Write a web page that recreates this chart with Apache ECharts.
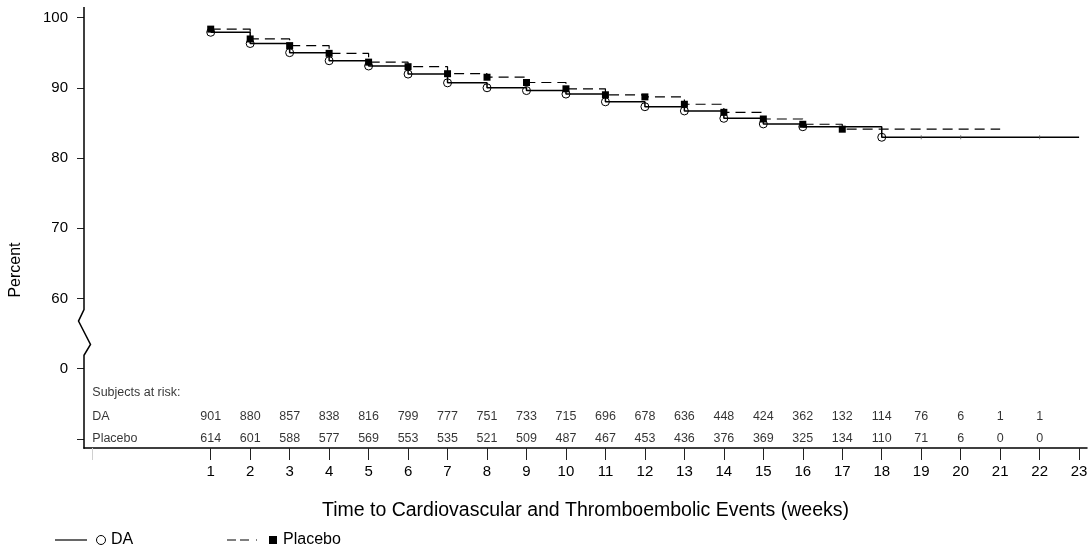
<!DOCTYPE html>
<html>
<head>
<meta charset="utf-8">
<script src="https://cdn.jsdelivr.net/npm/echarts@6/dist/echarts.min.js"></script>
<style>
  html, body { margin: 0; padding: 0; background: #ffffff; }
  #chart { width: 1092px; height: 559px; }
</style>
</head>
<body>
<div id="chart"></div>
<script>
// Kaplan-Meier event-free percentages by week
const weekTicks = [1, 2, 3, 4, 5, 6, 7, 8, 9, 10, 11, 12, 13, 14, 15, 16, 17, 18, 19, 20, 21, 22, 23];

const daWeeks = [1, 2, 3, 4, 5, 6, 7, 8, 9, 10, 11, 12, 13, 14, 15, 16, 18];
const daPercent = [97.9, 96.3, 95.0, 93.85, 93.1, 91.95, 90.7, 90.0, 89.6, 89.1, 88.0, 87.3, 86.7, 85.65, 84.85, 84.45, 82.95];
const daLastWeek = 23;
const daCensorWeeks = [19, 20, 22];

const pboWeeks = [1, 2, 3, 4, 5, 6, 7, 8, 9, 10, 11, 12, 13, 14, 15, 16, 17];
const pboPercent = [98.35, 96.95, 96.0, 94.9, 93.65, 93.0, 92.0, 91.5, 90.75, 89.85, 89.0, 88.7, 87.65, 86.5, 85.55, 84.8, 84.1];
const pboLastWeek = 21;

// Subjects at risk
const riskWeeks = [1, 2, 3, 4, 5, 6, 7, 8, 9, 10, 11, 12, 13, 14, 15, 16, 17, 18, 19, 20, 21, 22];
const daAtRisk = [901, 880, 857, 838, 816, 799, 777, 751, 733, 715, 696, 678, 636, 448, 424, 362, 132, 114, 76, 6, 1, 1];
const pboAtRisk = [614, 601, 588, 577, 569, 553, 535, 521, 509, 487, 467, 453, 436, 376, 369, 325, 134, 110, 71, 6, 0, 0];

const yTickValues = [40, 50, 60, 70, 80, 90, 100];
const yLabelValues = [50, 60, 70, 80, 90, 100];

// The axis is broken between 0 and 60: the "0" tick is drawn where 50 would be.
const ZERO_AT = 50;
const FONT = 'Liberation Sans, Arial, Helvetica, sans-serif';

// Rows of the at-risk table, in axis units below the broken zero
const ROW_HEAD = 46.55;
const ROW_DA = 43.23;
const ROW_PBO = 40.06;
const ROW_LABEL_X = -2;

const X_MIN = -2.21, X_MAX = 23.2;
const Y_MIN = 38.7, Y_MAX = 101.5;

function curve(weeks, values, lastWeek) {
  const pts = weeks.map((w, i) => [w, values[i]]);
  pts.push({ value: [lastWeek, values[values.length - 1]], symbol: 'none' });
  return pts;
}

const chart = echarts.init(document.getElementById('chart'), null, { renderer: 'canvas' });

const textRow = (y, values) => riskWeeks.map((w, i) => [w, y, values[i]]);

const option = {
  animation: false,
  backgroundColor: '#ffffff',
  textStyle: { fontFamily: FONT },
  grid: { left: 84, right: 5, top: 7, bottom: 111, containLabel: false },
  xAxis: [{
    type: 'value',
    min: X_MIN,
    max: X_MAX,
    name: 'Time to Cardiovascular and Thromboembolic Events (weeks)',
    nameLocation: 'middle',
    nameGap: 53,
    nameTextStyle: { fontSize: 19.5, color: '#000', fontFamily: FONT },
    axisLine: { show: true, onZero: false, lineStyle: { color: '#000', width: 1.5 } },
    axisTick: { show: true, length: 12, customValues: weekTicks, lineStyle: { color: '#222', width: 1 } },
    axisLabel: { show: true, customValues: weekTicks, margin: 16, fontSize: 15, color: '#000', fontFamily: FONT },
    splitLine: { show: false }
  }, {
    type: 'value',
    min: X_MIN,
    max: X_MAX,
    position: 'bottom',
    axisLine: { show: false, onZero: false },
    axisTick: { show: true, length: 12, customValues: [ROW_LABEL_X], lineStyle: { color: '#d0d0d0', width: 1 } },
    axisLabel: { show: false },
    splitLine: { show: false }
  }],
  yAxis: {
    type: 'value',
    min: Y_MIN,
    max: Y_MAX,
    position: 'left',
    axisLine: { show: false, onZero: false },
    axisTick: { show: true, length: 7, customValues: yTickValues, lineStyle: { color: '#222', width: 1 } },
    axisLabel: {
      show: true,
      customValues: yLabelValues,
      margin: 16,
      fontSize: 15,
      color: '#000',
      fontFamily: FONT,
      formatter: v => (v === ZERO_AT ? '0' : String(v))
    },
    splitLine: { show: false }
  },
  series: [
    {
      name: 'DA',
      type: 'line',
      step: 'end',
      data: curve(daWeeks, daPercent, daLastWeek),
      lineStyle: { color: '#000', width: 1.5, type: 'solid' },
      symbol: 'circle',
      symbolSize: 8,
      itemStyle: { color: 'rgba(0,0,0,0)', borderColor: '#000', borderWidth: 1 },
      z: 3
    },
    {
      name: 'DA censored',
      type: 'scatter',
      data: daCensorWeeks.map(w => [w, daPercent[daPercent.length - 1]]),
      symbol: 'rect',
      symbolSize: [1, 4],
      itemStyle: { color: '#555' },
      z: 3
    },
    {
      name: 'Placebo',
      type: 'line',
      step: 'end',
      data: curve(pboWeeks, pboPercent, pboLastWeek),
      lineStyle: { color: '#000', width: 1.2, type: [10, 6] },
      symbol: 'rect',
      symbolSize: 7,
      itemStyle: { color: '#000', borderWidth: 0 },
      z: 4
    },
    {
      name: 'At risk DA',
      type: 'scatter',
      data: textRow(ROW_DA, daAtRisk),
      symbolSize: 1,
      itemStyle: { color: 'rgba(0,0,0,0)' },
      label: { show: true, position: 'inside', formatter: p => p.value[2], fontSize: 12.5, color: '#000', fontFamily: FONT },
      silent: true
    },
    {
      name: 'At risk Placebo',
      type: 'scatter',
      data: textRow(ROW_PBO, pboAtRisk),
      symbolSize: 1,
      itemStyle: { color: 'rgba(0,0,0,0)' },
      label: { show: true, position: 'inside', formatter: p => p.value[2], fontSize: 12.5, color: '#000', fontFamily: FONT },
      silent: true
    },
    {
      name: 'At risk labels',
      type: 'scatter',
      data: [
        [ROW_LABEL_X, ROW_HEAD, 'Subjects at risk:'],
        [ROW_LABEL_X, ROW_DA, 'DA'],
        [ROW_LABEL_X, ROW_PBO, 'Placebo']
      ],
      symbolSize: 1,
      itemStyle: { color: 'rgba(0,0,0,0)' },
      label: { show: true, position: 'inside', align: 'left', formatter: p => p.value[2], fontSize: 12.5, color: '#000', fontFamily: FONT },
      silent: true
    }
  ]
};

chart.setOption(option);

// Vertical axis line with the zig-zag break between 60 and 0, plus titles and key
const pTop = chart.convertToPixel({ gridIndex: 0 }, [X_MIN, Y_MAX]);
const pBottom = chart.convertToPixel({ gridIndex: 0 }, [X_MIN, Y_MIN]);
const pBreakTop = chart.convertToPixel({ gridIndex: 0 }, [X_MIN, 58.4]);
const pBreakBottom = chart.convertToPixel({ gridIndex: 0 }, [X_MIN, 51.9]);
const ax = pTop[0];
const bTop = pBreakTop[1], bBot = pBreakBottom[1];
const span = bBot - bTop;

const keyY = 540;
chart.setOption({
  graphic: [
    {
      type: 'polyline',
      shape: {
        points: [
          [ax, pTop[1]],
          [ax, bTop],
          [ax - 5.5, bTop + span * 0.25],
          [ax + 6.5, bTop + span * 0.76],
          [ax, bBot],
          [ax, pBottom[1] + 0.75]
        ]
      },
      style: { stroke: '#000', lineWidth: 1.5, fill: null },
      z: 10
    },
    {
      type: 'text',
      x: 16,
      y: 270,
      rotation: Math.PI / 2,
      style: { text: 'Percent', font: '16px ' + FONT, fill: '#000', textAlign: 'center', textVerticalAlign: 'middle' }
    },
    { type: 'line', shape: { x1: 55, y1: keyY, x2: 87, y2: keyY }, style: { stroke: '#000', lineWidth: 1.2 } },
    { type: 'circle', shape: { cx: 101, cy: keyY, r: 4.5 }, style: { stroke: '#000', fill: 'rgba(0,0,0,0)', lineWidth: 1 } },
    { type: 'text', x: 111, y: keyY, style: { text: 'DA', font: '16px ' + FONT, fill: '#000', textVerticalAlign: 'middle' } },
    { type: 'line', shape: { x1: 227, y1: keyY, x2: 259, y2: keyY }, style: { stroke: '#000', lineWidth: 1.2, lineDash: [9, 4, 9, 7, 1, 3] } },
    { type: 'rect', shape: { x: 269, y: keyY - 4, width: 8, height: 8 }, style: { fill: '#000' } },
    { type: 'text', x: 283, y: keyY, style: { text: 'Placebo', font: '16px ' + FONT, fill: '#000', textVerticalAlign: 'middle' } }
  ]
});
</script>
</body>
</html>
